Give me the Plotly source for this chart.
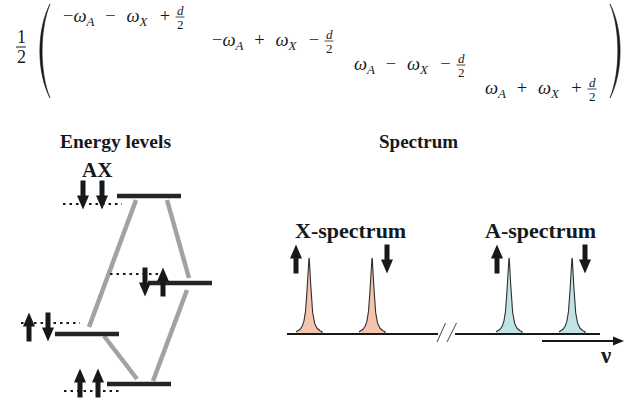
import numpy as np
import plotly.graph_objects as go

W, H = 632, 403
INK = "#16191c"
BAR = "#2a2420"
GREY = "#a2a2a2"
SERIF = "Liberation Serif, Times New Roman, serif"
SP = "\u2002\u200a"        # wide TeX-like spacing around binary operators
SPX = "\u2002\u200a\u200a"  # compensates for the tight gap after subscript X

# ---------------- data ----------------
# Hamiltonian matrix (diagonal entries, 1/2 prefactor)
matrix_main = [
    f"−<i>ω</i><sub><i>A</i></sub>{SP}−{SP}<i>ω</i><sub><i>X</i></sub>{SPX}+",
    f"−<i>ω</i><sub><i>A</i></sub>{SP}+{SP}<i>ω</i><sub><i>X</i></sub>{SPX}−",
    f"<i>ω</i><sub><i>A</i></sub>{SP}−{SP}<i>ω</i><sub><i>X</i></sub>{SPX}−",
    f"<i>ω</i><sub><i>A</i></sub>{SP}+{SP}<i>ω</i><sub><i>X</i></sub>{SPX}+",
]
matrix_frac_num = ["<i>d</i>"] * 4
matrix_frac_den = ["2"] * 4
matrix_row_y = [17, 41, 65, 89]
matrix_frac_x = [180, 329, 461, 592]

# Energy levels (top to bottom)
level_names = ["ββ", "βα", "αβ", "αα"]
level_y = [196, 283, 334, 384]
level_x0 = [117, 148, 55, 107]
level_x1 = [181, 212, 119, 171]
ref_y = [204, 274, 323, 391]
ref_x0 = [63, 110, 21, 64]
ref_x1 = [122, 168, 80, 121]
spin_x = [(83, 102), (145, 163), (29, 48), (80, 98)]
spin_mid = [195, 282, 327, 383]

# Transitions between levels (gray connectors)
trans_from = [(136, 200), (167, 200), (104, 336), (153, 381)]
trans_to = [(89, 327), (189, 278), (137, 379), (187, 290)]

# Spectrum
peak_nu = [309, 372, 509, 572]
peak_group = ["X", "X", "A", "A"]
peak_height = 76
baseline_y = 334
baseline_segments = [(287, 438), (455, 600)]
spec_spin_x = [296, 387, 497, 585]
spec_spin_dir = ["up", "down", "up", "down"]
spec_spin_mid = 259
group_color = {"X": "#f4c4af", "A": "#c0e3e6"}

fig = go.Figure()
shapes = []
ann = []


def arrow_path(x, mid, direction, length=29, shaft=5, head_w=12, head_l=14):
    half = length / 2
    if direction == "up":
        tip, tail, s = mid - half, mid + half, 1
    else:
        tip, tail, s = mid + half, mid - half, -1
    hb = tip + s * head_l
    pts = [(x - shaft / 2, tail), (x - shaft / 2, hb), (x - head_w / 2, hb), (x, tip),
           (x + head_w / 2, hb), (x + shaft / 2, hb), (x + shaft / 2, tail)]
    return "M " + " L ".join(f"{px:.2f},{py:.2f}" for px, py in pts) + " Z"


def add_arrow(x, mid, direction):
    shapes.append(dict(type="path", path=arrow_path(x, mid, direction), xref="x", yref="y",
                       fillcolor=INK, line=dict(width=0), layer="above"))


def text(x, y, s, size, bold=False, anchor="center", color=INK):
    ann.append(dict(x=x, y=y, xref="x", yref="y", text=(f"<b>{s}</b>" if bold else s),
                    showarrow=False, xanchor=anchor, yanchor="middle",
                    font=dict(family=SERIF, size=size, color=color)))


# ---------------- matrix ----------------
text(21, 37, "1", 18)
text(21, 57, "2", 18)
shapes.append(dict(type="line", x0=16, x1=26, y0=47, y1=47, line=dict(color=INK, width=1)))
# parentheses
shapes.append(dict(type="path", path="M 50,4 C 36.5,30 36.5,72 50,98 C 39.5,72 39.5,30 50,4 Z",
                   fillcolor=INK, line=dict(color=INK, width=0.6)))
shapes.append(dict(type="path", path="M 610,4 C 623.5,30 623.5,72 610,98 C 620.5,72 620.5,30 610,4 Z",
                   fillcolor=INK, line=dict(color=INK, width=0.6)))
for main, num, den, ry, fx in zip(matrix_main, matrix_frac_num, matrix_frac_den, matrix_row_y, matrix_frac_x):
    text(fx - 8, ry, main, 18.5, anchor="right")
    text(fx, ry - 7, num, 13)
    text(fx, ry + 7, den, 13)
    shapes.append(dict(type="line", x0=fx - 4.5, x1=fx + 4.5, y0=ry, y1=ry,
                       line=dict(color=INK, width=0.8)))

# ---------------- energy levels ----------------
text(115, 141, "Energy levels", 19.5, bold=True)
text(97, 170, "AX", 21, bold=True)
for (fx, fy), (tx, ty) in zip(trans_from, trans_to):
    shapes.append(dict(type="line", x0=fx, y0=fy, x1=tx, y1=ty, line=dict(color=GREY, width=4.5)))
for name, y, x0, x1, ry, rx0, rx1, sx, sm in zip(level_names, level_y, level_x0, level_x1,
                                                  ref_y, ref_x0, ref_x1, spin_x, spin_mid):
    shapes.append(dict(type="line", x0=rx0, x1=rx1, y0=ry, y1=ry,
                       line=dict(color=INK, width=2, dash="2.5px,4px")))
    shapes.append(dict(type="line", x0=x0, x1=x1, y0=y, y1=y, line=dict(color=BAR, width=4.5)))
    for ch, ax in zip(name, sx):
        add_arrow(ax, sm, "up" if ch == "α" else "down")

# ---------------- spectrum ----------------
text(418, 141, "Spectrum", 19, bold=True)
text(350, 230, "X-spectrum", 22, bold=True)
text(540, 230, "A-spectrum", 22, bold=True)
gamma = 2.3
for nu, g in zip(peak_nu, peak_group):
    xs = np.linspace(nu - 13, nu + 13, 301)
    ys = baseline_y - peak_height / (1 + ((xs - nu) / gamma) ** 2)
    fig.add_trace(go.Scatter(x=np.concatenate([xs, [nu + 13, nu - 13]]),
                             y=np.concatenate([ys, [baseline_y, baseline_y]]),
                             mode="lines", fill="toself", fillcolor=group_color[g],
                             line=dict(color="#2e2e2e", width=1.1), hoverinfo="skip",
                             showlegend=False))
for a, b in baseline_segments:
    shapes.append(dict(type="line", x0=a, x1=b, y0=baseline_y, y1=baseline_y,
                       line=dict(color=INK, width=2.2), layer="above"))
for x0, x1 in [(437, 445.5), (447, 456.5)]:
    shapes.append(dict(type="line", x0=x0, x1=x1, y0=342, y1=323, line=dict(color="#444", width=1)))
for x, d in zip(spec_spin_x, spec_spin_dir):
    add_arrow(x, spec_spin_mid, d)
# frequency axis arrow
shapes.append(dict(type="line", x0=542, x1=616, y0=341, y1=341, line=dict(color=INK, width=2)))
shapes.append(dict(type="path", path="M 613,336.5 L 624,341 L 613,345.5 Z", fillcolor=INK,
                   line=dict(width=0)))
text(605, 355, "ν", 23, bold=True)

fig.update_layout(
    width=W, height=H, margin=dict(l=0, r=0, t=0, b=0),
    paper_bgcolor="white", plot_bgcolor="white",
    xaxis=dict(range=[0, W], visible=False, fixedrange=True),
    yaxis=dict(range=[H, 0], visible=False, fixedrange=True),
    shapes=shapes, annotations=ann, showlegend=False,
)
fig.write_html("out.html", config={"displayModeBar": False},
               post_script="document.body.style.margin='0px';document.body.style.overflow='hidden';")
